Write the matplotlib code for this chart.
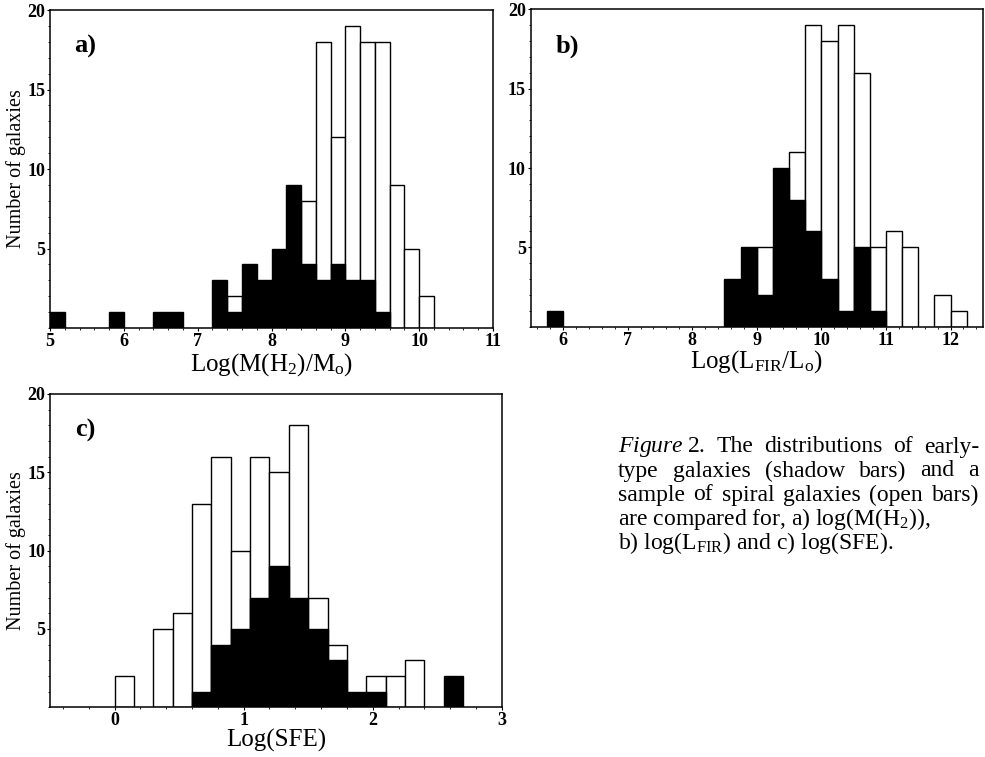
import matplotlib.pyplot as plt
from matplotlib.ticker import AutoMinorLocator

plt.rcParams['font.family'] = ['Liberation Serif', 'DejaVu Serif']
plt.rcParams['mathtext.fontset'] = 'custom'
plt.rcParams['mathtext.rm'] = 'Liberation Serif'
plt.rcParams['mathtext.it'] = 'Liberation Serif:italic'

# a) log M(H2), bins of 0.2
a_width = 0.2
a_spiral_x = [7.4, 8.4, 8.6, 8.8, 9.0, 9.2, 9.4, 9.6, 9.8, 10.0]
a_spiral_n = [2, 8, 18, 12, 19, 18, 18, 9, 5, 2]
a_early_x = [5.0, 5.8, 6.4, 6.6, 7.2, 7.4, 7.6, 7.8, 8.0, 8.2, 8.4, 8.6, 8.8, 9.0, 9.2, 9.4]
a_early_n = [1, 1, 1, 1, 3, 1, 4, 3, 5, 9, 4, 3, 4, 3, 3, 1]

# b) log L_FIR, bins of 0.25
b_width = 0.25
b_spiral_x = [9.0, 9.5, 9.75, 10.0, 10.25, 10.5, 10.75, 11.0, 11.25, 11.75, 12.0]
b_spiral_n = [5, 11, 19, 18, 19, 16, 5, 6, 5, 2, 1]
b_early_x = [5.75, 8.5, 8.75, 9.0, 9.25, 9.5, 9.75, 10.0, 10.25, 10.5, 10.75]
b_early_n = [1, 3, 5, 2, 10, 8, 6, 3, 1, 5, 1]

# c) log SFE, bins of 0.15
c_width = 0.15
c_spiral_x = [0.0, 0.3, 0.45, 0.6, 0.75, 0.9, 1.05, 1.2, 1.35, 1.5, 1.65, 1.95, 2.1, 2.25]
c_spiral_n = [2, 5, 6, 13, 16, 10, 16, 15, 18, 7, 4, 2, 2, 3]
c_early_x = [0.6, 0.75, 0.9, 1.05, 1.2, 1.35, 1.5, 1.65, 1.8, 1.95, 2.55]
c_early_n = [1, 4, 5, 7, 9, 7, 5, 3, 1, 1, 2]

fig = plt.figure(figsize=(9.85, 7.57), dpi=100)
ax_a = fig.add_axes([0.0508, 0.5667, 0.4497, 0.420])
ax_b = fig.add_axes([0.5388, 0.5684, 0.4590, 0.4193])
ax_c = fig.add_axes([0.0508, 0.0657, 0.4586, 0.4139])


def hist_panel(ax, sx, sn, ex, en, w, xlim, xticks, xlabel, tag, lpad):
    ax.bar(sx, sn, width=w, align='edge', color='white', edgecolor='black', linewidth=1.0)
    ax.bar(ex, en, width=w, align='edge', color='black', edgecolor='black', linewidth=1.0)
    ax.set_xlim(*xlim)
    ax.set_ylim(0, 20)
    ax.set_xticks(xticks)
    ax.set_yticks([5, 10, 15, 20])
    ax.xaxis.set_minor_locator(AutoMinorLocator(5))
    ax.yaxis.set_minor_locator(AutoMinorLocator(5))
    ax.tick_params(which='major', direction='out', length=2.5, width=0.8, pad=1.0, labelsize=13)
    ax.tick_params(which='minor', direction='out', length=1.2, width=0.6)
    for lab in ax.get_xticklabels() + ax.get_yticklabels():
        lab.set_fontweight('bold')
    for s in ax.spines.values():
        s.set_linewidth(1.1)
    ax.set_xlabel(xlabel, fontsize=18, labelpad=lpad)
    ax.text(0.055, 0.865, tag, transform=ax.transAxes, fontsize=19, fontweight='bold')


hist_panel(ax_a, a_spiral_x, a_spiral_n, a_early_x, a_early_n, a_width, (5, 11),
           [5, 6, 7, 8, 9, 10, 11], r'Log(M(H$_2$)/M$_\mathrm{o}$)', 'a)', 1.0)
hist_panel(ax_b, b_spiral_x, b_spiral_n, b_early_x, b_early_n, b_width, (5.5, 12.5),
           [6, 7, 8, 9, 10, 11, 12], r'Log(L$_\mathrm{FIR}$/L$_\mathrm{o}$)', 'b)', 0)
hist_panel(ax_c, c_spiral_x, c_spiral_n, c_early_x, c_early_n, c_width, (-0.5, 3.0),
           [0, 1, 2, 3], 'Log(SFE)', 'c)', 0)

ax_a.set_ylabel('Number of galaxies', fontsize=14.5, labelpad=1)
ax_c.set_ylabel('Number of galaxies', fontsize=14.5, labelpad=1)

# caption, first three lines justified between x0 and x1 (pixels)
caption = [
    r'$\mathit{Figure}\;\mathit{2}$. The distributions of early-',
    'type galaxies (shadow bars) and a',
    'sample of spiral galaxies (open bars)',
    r'are compared for, a) log(M(H$_2$)),',
    r'b) log(L$_\mathrm{FIR}$) and c) log(SFE).',
]
W, H = 985, 757
x0, x1 = 618, 979
fs = 17
renderer = fig.canvas.get_renderer()
for i, line in enumerate(caption):
    y = 1 - (447 + 24.0 * i) / H
    if i < 3:
        words = line.split(' ')
        objs = [fig.text(0, y, wd, fontsize=fs, va='center', ha='left') for wd in words]
        widths = [o.get_window_extent(renderer).width for o in objs]
        gap = (x1 - x0 - sum(widths)) / (len(words) - 1)
        x = x0
        for o, wdt in zip(objs, widths):
            o.set_x(x / W)
            x += wdt + gap
    else:
        fig.text(x0 / W, y, line, fontsize=fs, va='center', ha='left')

fig.savefig('out.png', dpi=100)
